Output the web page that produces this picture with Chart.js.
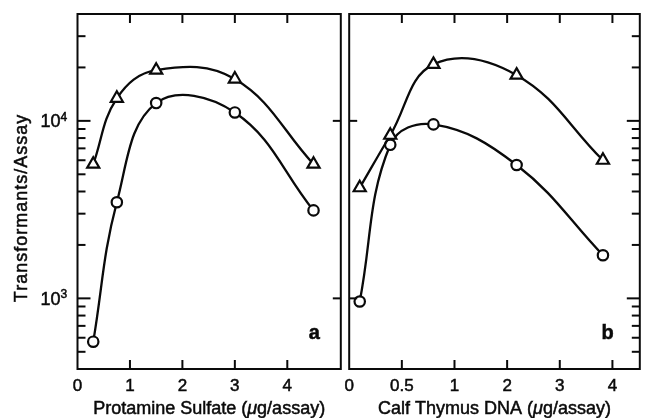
<!DOCTYPE html>
<html>
<head>
<meta charset="utf-8">
<script src="https://cdn.jsdelivr.net/npm/chart.js@4"></script>
<style>
  html, body { margin: 0; padding: 0; background: #fff; }
  #wrap { position: relative; width: 649px; height: 418px; overflow: hidden; background: #fff; }
  canvas { position: absolute; top: 0; }
  #panelA { left: 0; }
  #panelB { left: 340px; }
</style>
</head>
<body>
<div id="wrap">
  <canvas id="panelA" width="350" height="418"></canvas>
  <canvas id="panelB" width="309" height="418"></canvas>
</div>
<script>
/* ── Data ──────────────────────────────────── */
const protamine     = [0.3, 0.75, 1.5, 3.0, 4.5];
const protTriangles = [5700, 13400, 19300, 17200, 5700];
const protCircles   = [570, 3480, 12600, 11150, 3130];

const calfDna       = [0.1, 0.39, 0.8, 2.18, 3.82];
const dnaTriangles  = [4200, 8300, 20800, 18100, 6000];
const dnaCircles    = [960, 7330, 9550, 5640, 1750];

const protTicks = [0, 1, 2, 3, 4];
const dnaTicks  = [0, 0.5, 1, 2, 3, 4];
const yMajor    = [1000, 10000];
const yRange    = [400, 40000];

const INK  = '#0a0a0a';
const FONT = '"Liberation Sans", Arial, Helvetica, sans-serif';

// panel b axis: 0–1 drawn at double scale, 1–4 at single scale
const dnaPos  = v => v <= 1 ? v * 2 : v + 1;
const linPos  = v => v;

function yMinor() {
  const out = [];
  for (let d = 100; d <= 10000; d *= 10)
    for (let m = 2; m <= 9; m++) {
      const v = m * d;
      if (v > yRange[0] && v < yRange[1]) out.push(v);
    }
  return out;
}

/* ── Frame, ticks and texts ────────────────── */
// printed type is a little heavier than Liberation regular, so add a hairline stroke
function ink(ctx, text, x, y) {
  ctx.fillText(text, x, y);
  ctx.save();
  ctx.lineWidth = 0.5;
  ctx.strokeText(text, x, y);
  ctx.restore();
}

function drawMixed(ctx, parts, cx, base, size) {
  const fontOf = p => `${p.italic ? 'italic ' : ''}${size}px ${FONT}`;
  let w = 0;
  parts.forEach(p => { ctx.font = fontOf(p); w += ctx.measureText(p.text).width; });
  let x = cx - w / 2;
  ctx.textAlign = 'left';
  ctx.textBaseline = 'alphabetic';
  parts.forEach(p => { ctx.font = fontOf(p); ink(ctx, p.text, x, base); x += ctx.measureText(p.text).width; });
}

function framePlugin(cfg) {
  return {
    id: 'frame',
    afterDraw(chart) {
      const { ctx, chartArea: a, scales: { x, y } } = chart;
      const seg = (x1, y1, x2, y2) => { ctx.beginPath(); ctx.moveTo(x1, y1); ctx.lineTo(x2, y2); ctx.stroke(); };
      ctx.save();
      ctx.strokeStyle = INK;
      ctx.fillStyle = INK;
      ctx.lineWidth = 2;
      ctx.strokeRect(a.left, a.top, a.right - a.left, a.bottom - a.top);

      // x ticks, inward on top and bottom
      ctx.font = `17px ${FONT}`;
      ctx.textAlign = 'center';
      ctx.textBaseline = 'alphabetic';
      cfg.xTicks.forEach(t => {
        const px = x.getPixelForValue(cfg.pos(t));
        if (t !== 0) { seg(px, a.top, px, a.top + 9); seg(px, a.bottom, px, a.bottom - 9); }
        ink(ctx, String(t), px, a.bottom + 22);
      });

      // y ticks: outer edge gets the full log set, the shared edge only the decades
      const outerX = cfg.outer === 'left' ? a.left : a.right;
      const outerDir = cfg.outer === 'left' ? 1 : -1;
      const innerX = cfg.outer === 'left' ? a.right : a.left;
      yMinor().forEach(v => { const py = y.getPixelForValue(v); seg(outerX, py, outerX + outerDir * 8, py); });
      yMajor.forEach(v => {
        const py = y.getPixelForValue(v);
        seg(outerX, py, outerX + outerDir * 13, py);
        seg(innerX, py, innerX - outerDir * 8, py);
      });

      if (cfg.yLabels) {
        yMajor.forEach(v => {
          const py = y.getPixelForValue(v);
          ctx.font = `18px ${FONT}`;
          ctx.textAlign = 'right';
          ctx.textBaseline = 'alphabetic';
          ink(ctx, '10', a.left - 17, py + 6.5);
          ctx.font = `12px ${FONT}`;
          ctx.textAlign = 'left';
          ink(ctx, String(Math.round(Math.log10(v))), a.left - 17, py);
        });
        ctx.save();
        ctx.translate(22, 208);
        ctx.rotate(-Math.PI / 2);
        ctx.font = `18px ${FONT}`;
        ctx.letterSpacing = '1px';
        ctx.textAlign = 'center';
        ctx.textBaseline = 'middle';
        ink(ctx, 'Transformants/Assay', 0, 0);
        ctx.restore();
      }

      drawMixed(ctx, cfg.title, (a.left + a.right) / 2, a.bottom + 45, 18);

      ctx.font = `bold 20px ${FONT}`;
      ctx.textAlign = 'right';
      ctx.textBaseline = 'alphabetic';
      ink(ctx, cfg.letter, a.right - cfg.letterInset, a.bottom - 30);
      ctx.restore();
    }
  };
}

/* ── Panels ────────────────────────────────── */
function makePanel(id, xs, tri, circ, cfg) {
  const pts = ys => xs.map((v, i) => ({ x: cfg.pos(v), y: ys[i] }));
  const series = (ys, style, r) => ({
    data: pts(ys),
    borderColor: INK, backgroundColor: INK, borderWidth: 2.3, tension: 0.4, fill: false,
    pointStyle: style, pointRadius: r, pointBorderWidth: 2.2,
    pointBorderColor: INK, pointBackgroundColor: '#fff'
  });
  return new Chart(document.getElementById(id), {
    type: 'line',
    data: { datasets: [series(tri, 'triangle', 7), series(circ, 'circle', 5.2)] },
    options: {
      responsive: false,
      animation: false,
      events: [],
      layout: { padding: cfg.padding },
      scales: {
        x: { type: 'linear', min: cfg.xMin, max: cfg.xMax, display: false },
        y: { type: 'logarithmic', min: yRange[0], max: yRange[1], display: false }
      },
      plugins: { legend: { display: false }, tooltip: { enabled: false } }
    },
    plugins: [framePlugin(cfg)]
  });
}

makePanel('panelA', protamine, protTriangles, protCircles, {
  pos: linPos, xTicks: protTicks, xMin: 0, xMax: 5.02,
  padding: { left: 77.5, right: 2, top: 14, bottom: 49 },
  outer: 'left', yLabels: true,
  title: [{ text: 'Protamine Sulfate (' }, { text: 'μ', italic: true }, { text: 'g/assay)' }],
  letter: 'a', letterInset: 21
});

makePanel('panelB', calfDna, dnaTriangles, dnaCircles, {
  pos: dnaPos, xTicks: dnaTicks, xMin: 0, xMax: 5.52,
  padding: { left: 7.5, right: 3, top: 14, bottom: 49 },
  outer: 'right', yLabels: false,
  title: [{ text: 'Calf Thymus DNA (' }, { text: 'μ', italic: true }, { text: 'g/assay)' }],
  letter: 'b', letterInset: 26
});
</script>
</body>
</html>
